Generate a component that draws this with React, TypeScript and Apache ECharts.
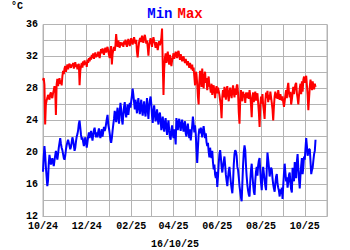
import React, { useEffect, useRef } from "react";
import * as echarts from "echarts";

// Daily categories: 2024-10-01 .. 2025-11-01 (axis spans 13 months)
const startDate = Date.UTC(2024, 9, 1);
const endDate = Date.UTC(2025, 10, 1);
const dayCategories: string[] = [];
for (let t = startDate; t <= endDate; t += 86400000) {
  dayCategories.push(new Date(t).toISOString().slice(0, 10));
}

const yTicks = { min: 12, max: 36, interval: 2 };
const titleMin = "Min";
const titleMax = "Max";
const unitLabel = "°C";
const dateLabel = "16/10/25";

// Daily maximum temperatures (°C), from 2024-10-01
const maxTempsA = [
  29, 29.3, 28.5, 23.5, 26, 26.5, 26.8, 27.2, 27, 26.6, 27.3, 27.5, 27, 26.8, 27.4, 27.8, 28.3, 27.9, 24.7, 28.5, 29.2, 28.3, 28.8, 29.3, 28.6, 29, 28.4,
  29.5, 30.2, 29.8, 30.5, 30.8, 30.1, 30.6, 31, 30.4, 30.9, 31.1, 30.7,
  30.6, 31, 30.8, 31.2, 30.5, 30.9, 31.3, 30.7, 31, 30.4, 30.8, 31.1,
  28.4, 30.2,
  30.8, 31.2, 30.6, 31.4, 30.9, 31.5, 31, 31.3, 30.7, 31.6, 31.2, 31.8, 31.4,
  31.9, 31.6, 32.2, 31.8, 32.4, 31.7, 32.1, 32.5, 31.9, 32.3, 32, 32.6, 32.2, 31.8,
];
const maxTempsB = [
  32.5, 32.9, 32.4, 33, 32.6, 32.2, 32.8, 33.1, 32.5, 32.9, 33.2, 32.7, 32.2, 31.8, 32.8, 33.3, 31,
  32.3, 32.8, 33.2, 32.7, 33.4, 34.8, 33.8, 33.2, 34, 33.5, 33.1, 33.8, 33.4, 33.6,
  33.7, 33.2, 33.9, 33.5, 34.1, 33.6, 33.2, 33.8, 34.2, 33.7, 33.3, 33.9, 34.3, 33.8, 33.5, 34, 34.4, 33.9, 33.6, 34.1,
  32.6, 31.9, 33, 33.8, 34.2,
  34.3, 33.8, 34.6, 34.1, 33.7, 34.4, 34.7, 34.2, 33.6, 34, 33.2, 32.1, 33.4, 33.9, 34.3, 33.8, 33.2, 34, 34.4, 33.9,
  33.6, 33.1, 33.8, 33.3, 32.8, 33.5, 33.9, 33.4, 33.8, 34.3, 35.5,
  31, 27.2,
  30.5, 31.8, 32.4, 31.2, 32, 32.6, 31.5, 31, 32.2, 31.7, 30.8, 31.5,
];
const maxTempsC = [
  31.9, 32.4, 31.7, 32.1, 32.6, 32.2, 31.8, 32.5, 32.7, 32.1, 31.6, 32.3, 31.9, 31.4, 31.8,
  32, 31.5, 31.2, 31.7, 31.3, 30.9, 31.4, 31, 30.6, 31.2, 30.8, 30.4, 31,
  30.2, 30.6, 29.5, 28.4, 30.1,
  29.8, 28.6, 27, 26,
  28.8, 30.2, 29.4, 28.2, 30.5, 29.1, 28, 29.6, 30.1, 28.7, 29.3, 27.8, 28.9, 29.5, 28.3,
  28.2, 27.5, 28.6, 27.2, 28, 28.4, 27.6, 26.8, 27.9, 28.3, 27.4, 28.1, 27.7, 27.2, 26.5, 25.8,
  24.3, 27,
  27.8, 26.9, 28.2, 27.4, 26.6, 27.9, 28.3, 27.1, 26.4, 27.6, 28.1, 27.3, 26.8, 27.7, 28.4, 27.5, 26.9, 28, 27.2, 28.3,
  28.5, 27.4, 25, 23.6,
  26.5, 27.8, 27.2, 26.4, 27.6, 26.9, 27.3, 26.2, 27.5, 26.8, 27.2,
];
const maxTempsD = [
  27.5, 26.7, 27.8, 27.1,
  26, 24.4,
  26.8, 27.5, 26.3, 27.2, 27.6, 26.5, 27.1, 27.4, 26.2,
  25, 23.2, 25.8,
  27, 26.1, 27.3, 25.9, 25.2,
  24.2,
  26.4, 27.5, 26.8, 27.7, 26.3, 27.2, 26.6, 27.6, 26.9, 26.2, 25.4,
  24, 25.8,
  27, 27.6, 26.8, 27.4, 26.7, 27.8, 27.1, 26.6, 27.3, 26.8,
  26.5, 27, 26.3, 25.7, 26.4, 27.2,
  27.8, 26.8, 28.1, 28.7, 27.5, 26.9, 27.6,
  26, 26.6,
  27.4, 28.2, 27.3, 28, 28.5, 28.7, 27.4, 26.8,
  26, 27.2, 28,
  28.6, 27.3, 28.9, 27.6, 29.1,
  29.5, 28.7, 29.3, 29.6, 28.4, 27.2,
  25.3, 26.8,
  28.2, 29.1, 28.4, 27.8, 28.9, 28.3, 27.9, 28.6, 28.2,
];

// Daily minimum temperatures (°C), from 2024-10-01
const minTempsA = [
  17.6, 19.5, 20.8, 19.8, 18.2, 17, 15.8, 16.5, 18.6, 19.7,
  19.1, 18.5, 18.9, 19.3, 18.7, 18.3, 19, 19.6, 20.2, 19.7,
  19.1, 19.8, 20.6, 21.2, 21.8, 21.1, 20.6, 20.3, 19.8, 19.3,
  19.1, 19.6, 20.4, 20.9, 21.3, 21.6, 21.2, 20.8, 20.4, 20.7,
  21.3, 21.9, 21.5, 20.9, 20.2, 20.6, 21.4, 22, 22.3, 22.8,
  23.6, 24, 23.1, 22.2, 21.6, 21.9, 21.3, 20.8, 21.4, 21.9,
  21.2, 20.6, 21.3, 22, 22.5, 21.8, 22.3, 22.7, 22.1, 21.5,
  22.2, 22.8, 23.1, 22.4, 21.9, 22.5, 21.9, 22.6, 23, 22.3,
  21.8, 22.4, 22.9, 22, 22.6, 23.2, 22.7, 23, 23.6, 24.2,
  24.7, 23.5, 23, 22.4, 21.6, 21.2, 21.8, 22.7, 23.5, 24.2,
];
const minTempsB = [
  25.2, 24.6, 23.8, 24.9, 25.6, 24.3, 23.6, 25.1, 26.2, 25.4,
  24.1, 23.5, 24.8, 25.7, 26.3, 25, 24.4, 25.3, 26, 24.7,
  25.5, 26.2, 25.6, 26.4, 27.1, 28, 27.2, 26.3, 25.4, 26.6,
  25.8, 24.9, 26.1, 26.8, 25.5, 24.8, 25.9, 26.6, 25.3, 24.6,
  25.7, 26.4, 25.1, 24.5, 25.6, 26.8, 25.4, 24.2, 25.8, 26.5,
  27, 26.1, 24.6, 23.7, 25.1, 25.9, 24.8, 23.9, 24.6, 25.4,
  24.2, 23.5, 24.7, 25, 24.1, 22.8, 23.6, 24.5, 23.2, 22.6,
  23.8, 24.3, 23.1, 22.2, 23.4, 24, 22.7, 21.9, 21.6, 22.8,
  23.4, 22.3, 21.8, 22.9, 22.1, 21, 24.3, 23.5, 22.8, 23.9,
  24.2, 23.3, 22.7, 23.6, 24.1, 23.2, 22.6, 23.5, 23.9, 22.4,
  22, 23.1, 23.6, 22.5, 21.8, 22.9, 21.5, 22.4, 23.3, 24.5,
  23.6, 22.5, 23.4, 22.3, 20.4, 18.7, 20.5, 22.2,
];
const minTempsC = [
  23, 22.4, 23.1, 22.6, 21.9, 22.8, 23.3, 22.5, 21.8, 22.4,
  21.3, 20.8, 21.2, 20.1, 19.4, 20.6, 19.8, 19.3, 20.2, 18.8,
  17.9, 18.5, 17.2, 16.8, 17.6, 15.7, 17, 18.6, 19.8, 20.3,
  19.4, 18.2, 17.5, 18.3, 18.9, 19.5, 18.4, 17.2, 16.5, 15.8,
  16.9, 17.7, 18.2, 17.1, 16.2, 15.5, 14.9, 16.3, 18.5, 19.8,
  20.3, 20.1,
];
const minTempsD = [
  19.6, 18.2, 17.8, 16.9, 15.8, 15.1, 14.4, 13.9, 16.2, 18.5,
  20.1, 20.9, 20.3, 18.4, 17, 15.9, 15.2, 14.7, 14.5, 16.4,
  17.8, 18.6, 17.2, 16, 15.1, 14.7, 16.5, 17.6, 18.2, 17.1,
  18.4, 19, 19.3, 17.6, 16.2, 15.3, 17.1, 18.2, 17.4, 16.6,
  15.8, 15.3, 17.9, 20, 19.1, 18.2, 17, 17.6, 18.1, 17.9,
  16.8, 16, 15.5, 15.1, 16.2, 17, 17.3, 16.1, 15.6, 15.2,
  14.5, 15.4, 14.8, 15.6, 14.2, 15.9, 17.4, 18.6, 17.5, 16.4,
  16.9, 15.6, 16.3, 17.2, 17.5, 16.2, 15.4, 15, 18.1, 17.2,
  16.4, 18.8, 17.5, 16.8, 18.9, 19.8, 18.1, 16.6, 15.5, 17.2,
  18.4, 19.3, 17.3, 18.2, 19.5, 19.1, 20.5, 21.8, 20.8, 19.6,
  20.1, 20.4, 20.4, 18.9, 17.3, 17.8, 18.1, 19, 19.8, 20.2,
  21.6,
];

const maxTemps = [...maxTempsA, ...maxTempsB, ...maxTempsC, ...maxTempsD];
const minTemps = [...minTempsA, ...minTempsB, ...minTempsC, ...minTempsD];

const FONT = "'Liberation Mono', 'DejaVu Sans Mono', monospace";
const GRID_COLOR = "#b4b4b4";

export default function App() {
  const ref = useRef<HTMLDivElement>(null);
  useEffect(() => {
    if (!ref.current) return;
    const chart = echarts.init(ref.current, undefined, { renderer: "svg" });
    const isMonthStart = (_i: number, v: string) => v.slice(8, 10) === "01";
    const isLabelMonth = (_i: number, v: string) =>
      v.slice(8, 10) === "01" && parseInt(v.slice(5, 7), 10) % 2 === 0;
    chart.setOption({
      animation: false,
      backgroundColor: "#ffffff",
      title: {
        text: `{a|${titleMin}} {b|${titleMax}}`,
        left: "center",
        top: 0,
        textStyle: {
          rich: {
            a: { color: "#0000ff", fontFamily: FONT, fontWeight: "bold", fontSize: 14 },
            b: { color: "#ff0000", fontFamily: FONT, fontWeight: "bold", fontSize: 14 },
          },
        },
      },
      graphic: [
        {
          type: "text",
          left: 11,
          top: 1,
          style: { text: unitLabel, fontFamily: FONT, fontWeight: "bold", fontSize: 10, fill: "#000" },
        },
        {
          type: "text",
          left: "center",
          top: 239,
          style: { text: dateLabel, fontFamily: FONT, fontWeight: "bold", fontSize: 10, fill: "#000" },
        },
      ],
      grid: {
        left: 43,
        right: 23,
        top: 24.5,
        bottom: 33.5,
        containLabel: false,
        show: true,
        borderColor: GRID_COLOR,
        borderWidth: 1,
      },
      xAxis: {
        type: "category",
        data: dayCategories,
        boundaryGap: false,
        axisLine: { show: true, lineStyle: { color: GRID_COLOR, width: 1 } },
        axisTick: { show: false },
        axisLabel: {
          interval: isLabelMonth,
          formatter: (v: string) => `${v.slice(5, 7)}/${v.slice(2, 4)}`,
          fontFamily: FONT,
          fontWeight: "bold",
          fontSize: 10,
          color: "#000",
          margin: 5,
        },
        splitLine: {
          show: true,
          interval: isMonthStart,
          lineStyle: { color: GRID_COLOR, width: 1, type: "solid" },
        },
      },
      yAxis: {
        type: "value",
        min: yTicks.min,
        max: yTicks.max,
        interval: yTicks.interval,
        axisLine: { show: true, lineStyle: { color: GRID_COLOR, width: 1 } },
        axisTick: { show: false },
        axisLabel: {
          interval: 1,
          formatter: (v: number) => ((v - yTicks.min) % 4 === 0 ? String(v) : ""),
          fontFamily: FONT,
          fontWeight: "bold",
          fontSize: 10,
          color: "#000",
          margin: 5,
        },
        splitLine: { show: true, lineStyle: { color: GRID_COLOR, width: 1, type: "solid" } },
      },
      series: [
        {
          name: "Max",
          type: "line",
          data: maxTemps,
          showSymbol: false,
          symbol: "none",
          lineStyle: { color: "#ff0000", width: 2 },
          itemStyle: { color: "#ff0000" },
          z: 3,
        },
        {
          name: "Min",
          type: "line",
          data: minTemps,
          showSymbol: false,
          symbol: "none",
          lineStyle: { color: "#0000ff", width: 2 },
          itemStyle: { color: "#0000ff" },
          z: 3,
        },
      ],
    });
    return () => chart.dispose();
  }, []);
  return (
    <div
      ref={ref}
      style={{ position: "fixed", left: 0, top: 0, width: 350, height: 250 }}
    />
  );
}
